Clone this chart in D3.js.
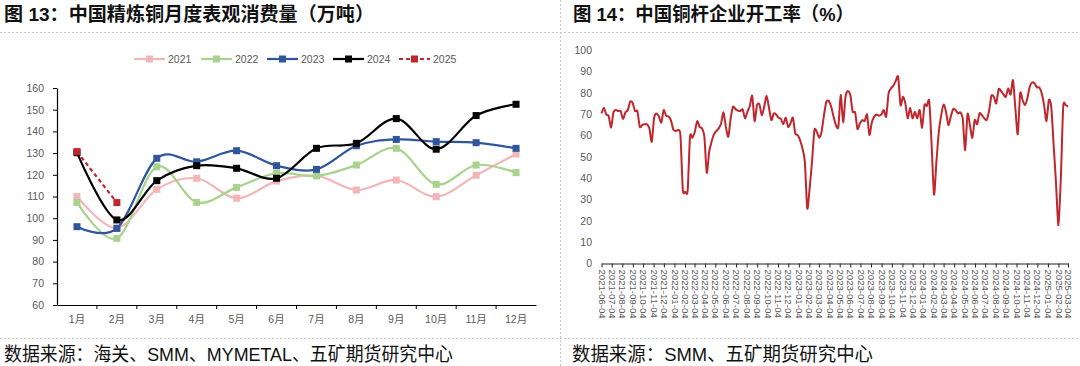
<!DOCTYPE html>
<html><head><meta charset="utf-8">
<script src="https://cdn.jsdelivr.net/npm/d3@7"></script>
<style>
html,body{margin:0;padding:0;background:#fff;}
svg{display:block;}
text{font-family:"Liberation Sans","Noto Sans CJK SC",Arial,sans-serif;}
</style></head>
<body>
<svg id="c" width="1080" height="366"></svg>
<script>
// ---------- Left chart data ----------
const months = ["1月","2月","3月","4月","5月","6月","7月","8月","9月","10月","11月","12月"];
const yearNames = ["2021","2022","2023","2024","2025"];
const s2021 = [110,95.5,113.3,118.4,109.2,117.1,119.6,113,117.6,109.9,119.8,129.6];
const s2022 = [107.3,90.7,123.7,107.3,114.2,120.7,119.5,124.5,132.2,115.6,124.5,121];
const s2023 = [96.1,95.3,127.6,126,131.1,124.2,122.5,133.4,136.3,135.3,134.8,132.2];
const s2024 = [130.2,99.2,117.3,124.2,123,118.4,132.2,134.5,145.9,131.8,147.3,152.5];
const s2025 = [130.7,107.2];
const leftTicks = [60,70,80,90,100,110,120,130,140,150,160];

// ---------- Right chart data ----------
const dateLabels = ["2021-06-04","2021-07-04","2021-08-04","2021-09-04","2021-10-04","2021-11-04","2021-12-04",
"2022-01-04","2022-02-04","2022-03-04","2022-04-04","2022-05-04","2022-06-04","2022-07-04","2022-08-04","2022-09-04","2022-10-04","2022-11-04","2022-12-04",
"2023-01-04","2023-02-04","2023-03-04","2023-04-04","2023-05-04","2023-06-04","2023-07-04","2023-08-04","2023-09-04","2023-10-04","2023-11-04","2023-12-04",
"2024-01-04","2024-02-04","2024-03-04","2024-04-04","2024-05-04","2024-06-04","2024-07-04","2024-08-04","2024-09-04","2024-10-04","2024-11-04","2024-12-04",
"2025-01-04","2025-02-04","2025-03-04"];
const rodRate = [70.3,73,69.8,69,63.7,70.8,71.9,71.4,71.4,67.7,70.8,71.9,75.8,75.3,71.4,71.4,64,64.8,65.2,65.2,
63.3,57,68.3,70.3,68.8,66,71.9,69.2,68.8,67.2,62.8,62,62.5,60,34.4,33.6,34,59.4,58.9,61.7,
66.7,64,63.3,59.4,42.5,52.3,57,60.5,62,63.3,65.6,70.8,64,59.4,68,73.4,72.3,71.6,71.4,72.2,
68,71.1,73.8,78.6,66.7,74.2,74.5,69.5,73.4,78.6,73,67.2,70.3,69.8,68.3,67.7,65.2,68.3,64,65.6,
68.3,60.9,60.2,57.8,53.9,47.7,25.8,35.2,47.7,62.5,61.7,58.9,61.7,69.5,75.8,76.1,73.4,68.8,64.8,64,
78.9,66.1,78.1,80.8,78.9,71.1,70.8,63,65.6,67.2,66.7,69.8,60.2,66.1,68.8,69.8,69.2,69.8,71.9,68.8,
79.7,82,83.3,85.5,87.5,74.2,78.1,75,68,73,68,71.1,68,71.9,63.6,74.2,73.8,76.1,55.5,32.3,
47.7,61.7,69.5,74.5,71.1,64.8,68.8,72.3,71.9,70.3,70.8,68,53.1,70,64.8,58.9,67.2,65.2,70.3,69.5,
68,67.2,71.4,78.6,78.1,75,81.6,80.8,79.2,78.1,82,79.2,85.9,72.7,60.6,79.7,76.6,74.2,77.3,82.8,
84.8,84.4,82.5,82.5,79.7,74.2,66.7,76.6,73.4,55.5,37.5,18,39.8,73.4,74.2,73.4];
const rightTicks = [0,10,20,30,40,50,60,70,80,90,100];

const svg = d3.select("#c");
const labelColor = "#595959";
const gridDash = "#c6c6c6";

// separators
svg.append("line").attr("x1",0).attr("x2",1080).attr("y1",32.5).attr("y2",32.5)
  .attr("stroke",gridDash).attr("stroke-dasharray","2,2");
svg.append("line").attr("x1",0).attr("x2",1080).attr("y1",338.5).attr("y2",338.5)
  .attr("stroke",gridDash).attr("stroke-dasharray","2,2");
svg.append("line").attr("x1",560.5).attr("x2",560.5).attr("y1",0).attr("y2",366)
  .attr("stroke",gridDash).attr("stroke-dasharray","2,2");

// titles
const cjk = '"Noto Sans CJK SC",sans-serif';
svg.append("text").attr("x",4).attr("y",21).attr("font-family",cjk).attr("font-weight","bold")
  .attr("font-size",19).attr("fill","#111").attr("textLength",370).attr("lengthAdjust","spacingAndGlyphs")
  .text("图 13：中国精炼铜月度表观消费量（万吨）");
svg.append("text").attr("x",573).attr("y",21).attr("font-family",cjk).attr("font-weight","bold")
  .attr("font-size",19).attr("fill","#111").attr("textLength",281).attr("lengthAdjust","spacingAndGlyphs")
  .text("图 14：中国铜杆企业开工率（%）");
// footers
svg.append("text").attr("x",4).attr("y",361).attr("font-family",cjk)
  .attr("font-size",19).attr("fill","#111").attr("textLength",449).attr("lengthAdjust","spacingAndGlyphs")
  .text("数据来源：海关、SMM、MYMETAL、五矿期货研究中心");
svg.append("text").attr("x",572).attr("y",361).attr("font-family",cjk)
  .attr("font-size",19).attr("fill","#111").attr("textLength",301).attr("lengthAdjust","spacingAndGlyphs")
  .text("数据来源：SMM、五矿期货研究中心");

// ---------- Left chart ----------
const x = d3.scaleBand().domain(months).range([57,536]);
const y = d3.scaleLinear().domain([60,160]).range([305,88]);
const L = svg.append("g");

// y axis
const yAx = L.append("g").attr("transform","translate(57,0)")
  .call(d3.axisLeft(y).tickValues(leftTicks).tickSize(4).tickPadding(9).tickSizeOuter(0));
yAx.select(".domain").attr("stroke","#000").attr("stroke-width",1.2);
yAx.selectAll(".tick line").attr("stroke","#000");
yAx.selectAll("text").attr("font-size",10.5).attr("fill",labelColor).attr("font-family","Liberation Sans, sans-serif");

// x axis
const xAx = L.append("g").attr("transform","translate(0,305)")
  .call(d3.axisBottom(x).tickSize(0).tickPadding(11).tickSizeOuter(0));
xAx.select(".domain").attr("stroke","#000").attr("stroke-width",1.2);
xAx.selectAll("text").attr("font-size",10.5).attr("fill",labelColor).attr("font-family",'"Noto Sans CJK SC",sans-serif');
xAx.selectAll(".bnd").data(months.slice(1)).enter().append("line")
  .attr("x1",d=>x(d)).attr("x2",d=>x(d)).attr("y1",0).attr("y2",4).attr("stroke","#000");

const seriesDefs = [
  {name:yearNames[0], vals:s2021, color:"#F3B6B8", dash:null},
  {name:yearNames[1], vals:s2022, color:"#A8D28D", dash:null},
  {name:yearNames[2], vals:s2023, color:"#2F569B", dash:null},
  {name:yearNames[3], vals:s2024, color:"#000000", dash:null},
  {name:yearNames[4], vals:s2025, color:"#C0262D", dash:"4,3"}
];
const lineL = d3.line().x((d,i)=>x(months[i])+x.bandwidth()/2).y(d=>y(d)).curve(d3.curveCardinal.tension(0));
seriesDefs.forEach(s=>{
  const g = L.append("g");
  g.append("path").datum(s.vals).attr("d",lineL).attr("fill","none")
    .attr("stroke",s.color).attr("stroke-width",2.2).attr("stroke-dasharray",s.dash);
  g.selectAll("rect").data(s.vals).enter().append("rect")
    .attr("x",(d,i)=>x(months[i])+x.bandwidth()/2-3.5).attr("y",d=>y(d)-3.5)
    .attr("width",7).attr("height",7).attr("fill",s.color);
});

// legend
const legX = [134,201,267,333,399];
const leg = L.append("g").attr("transform","translate(0,59)");
seriesDefs.forEach((s,i)=>{
  const g = leg.append("g").attr("transform",`translate(${legX[i]},0)`);
  g.append("line").attr("x1",0).attr("x2",31).attr("y1",0).attr("y2",0)
    .attr("stroke",s.color).attr("stroke-width",2.2).attr("stroke-dasharray",s.dash);
  g.append("rect").attr("x",12).attr("y",-3.5).attr("width",7).attr("height",7).attr("fill",s.color);
  g.append("text").attr("x",34).attr("y",3.8).attr("font-size",10.5).attr("fill",labelColor).text(s.name);
});

// ---------- Right chart ----------
const parse = d3.timeParse("%Y-%m-%d");
const tickDates = dateLabels.map(parse);
const xr = d3.scaleTime().domain([tickDates[0], tickDates[tickDates.length-1]]).range([601.5,1068]);
const yr = d3.scaleLinear().domain([0,100]).range([263.5,50]);
const R = svg.append("g");

const yrAx = R.append("g").attr("transform","translate(601,0)")
  .call(d3.axisLeft(yr).tickValues(rightTicks).tickSize(0).tickPadding(9));
yrAx.select(".domain").remove();
yrAx.selectAll("text").attr("font-size",10.5).attr("fill",labelColor).attr("font-family","Liberation Sans, sans-serif");

const xrAx = R.append("g").attr("transform","translate(0,263.5)")
  .call(d3.axisBottom(xr).tickValues(tickDates).tickFormat(d3.timeFormat("%Y-%m-%d")).tickSize(4).tickSizeOuter(0));
xrAx.select(".domain").attr("stroke","#222").attr("stroke-width",1.2);
xrAx.selectAll(".tick line").attr("stroke","#222");
xrAx.selectAll("text").attr("font-size",9.6).attr("fill",labelColor).attr("font-family","Liberation Sans, sans-serif")
  .attr("transform","rotate(90)").attr("text-anchor","start").attr("x",6).attr("y",0).attr("dy","0.35em");

const t0 = tickDates[0].getTime(), t1 = tickDates[tickDates.length-1].getTime();
const n = rodRate.length;
const lineR = d3.line()
  .x((d,i)=>xr(new Date(t0 + (t1-t0)*i/(n-1))))
  .y(d=>yr(d)).curve(d3.curveCardinal.tension(0.3));
R.append("path").datum(rodRate).attr("d",lineR).attr("fill","none")
  .attr("stroke","#C0272D").attr("stroke-width",2).attr("stroke-linejoin","round");
</script>
</body></html>
